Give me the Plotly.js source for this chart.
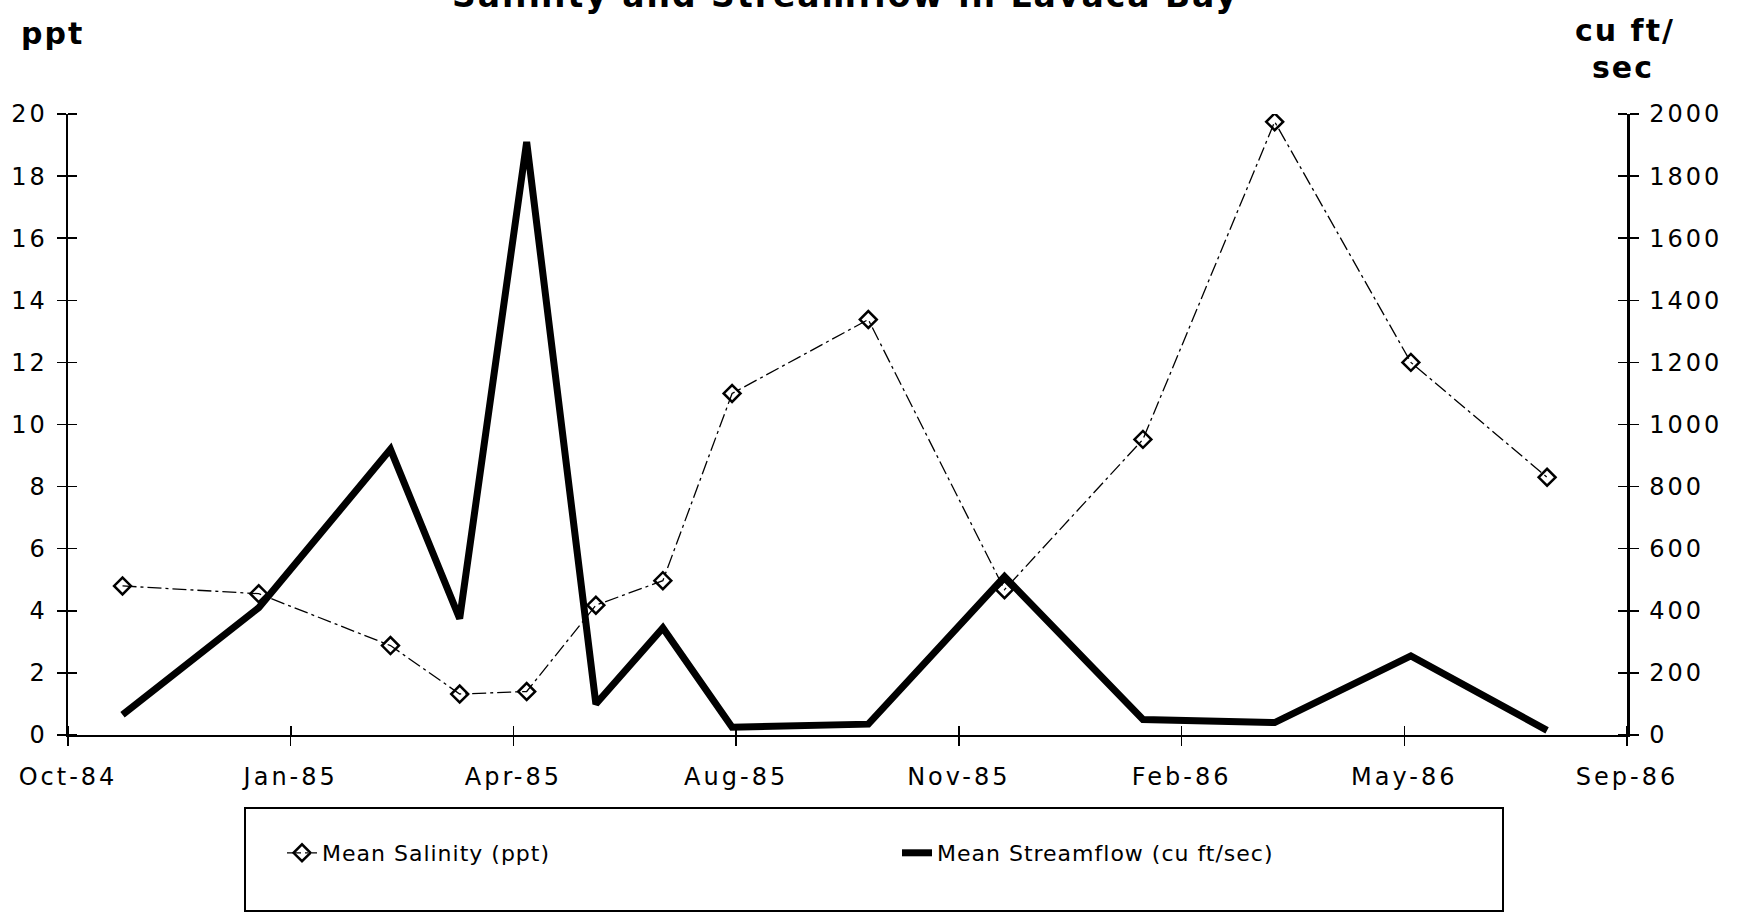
<!DOCTYPE html>
<html>
<head>
<meta charset="utf-8">
<script src="https://cdn.plot.ly/plotly-3.0.1.min.js"></script>
<style>
  html, body { margin: 0; padding: 0; background: #fff; }
  #chart { width: 1739px; height: 914px; }
  .xtick text, .ytick text, .y2tick text { letter-spacing: 3px; }
  .legendtext { letter-spacing: 1px; }
  .annotation-text { letter-spacing: 2px; }
</style>
</head>
<body>
<div id="chart"></div>
<script>
// ---- data ----
const sampleDates = ['1984-11-01','1985-01-01','1985-03-01','1985-04-01','1985-05-01','1985-06-01','1985-07-01',
                     '1985-08-01','1985-10-01','1985-12-01','1986-02-01','1986-04-01','1986-06-01','1986-08-01'];
const salinity   = [4.8, 4.55, 2.88, 1.32, 1.4, 4.18, 4.97, 11.0, 13.38, 4.68, 9.52, 19.75, 12.0, 8.3];
const streamflow = [65, 410, 920, 375, 1910, 100, 345, 25, 35, 510, 50, 40, 255, 15];

const seriesNames = ['Mean Salinity (ppt)', 'Mean Streamflow (cu ft/sec)'];
const titleText = 'Salinity and Streamflow in Lavaca Bay';
const leftUnit = 'ppt';
const rightUnit = ['cu ft/', 'sec'];

// axis layout
const xStart = new Date('1984-10-07T14:00:00Z').getTime();
const xEnd   = new Date('1986-09-05T19:00:00Z').getTime();
const xStep  = (xEnd - xStart) / 7;

const fontFam = 'DejaVu Sans, sans-serif';
const tickFont = {family: fontFam, size: 24, color: '#000'};

const traces = [
  {
    x: sampleDates, y: salinity, name: seriesNames[0], type: 'scatter', mode: 'lines+markers',
    yaxis: 'y',
    line: {color: '#000', width: 1.3, dash: '14px,4px,3px,4px'},
    marker: {symbol: 'diamond-open', size: 13, color: '#000', line: {width: 2.5, color: '#000'}}
  },
  {
    x: sampleDates, y: streamflow, name: seriesNames[1], type: 'scatter', mode: 'lines',
    yaxis: 'y2',
    line: {color: '#000', width: 7}
  }
];

const L = 68, R = 112, T = 114, B = 179;
const W = 1739, H = 914;
const pw = W - L - R, ph = H - T - B;
const px2x = p => (p - L) / pw;
const py2y = p => (H - B - p) / ph;

const layout = {
  width: W, height: H,
  margin: {l: L, r: R, t: T, b: B, pad: 0},
  paper_bgcolor: '#fff', plot_bgcolor: '#fff',
  showlegend: true,
  legend: {
    orientation: 'h', x: px2x(282), xanchor: 'left', y: py2y(853), yanchor: 'middle',
    font: {family: fontFam, size: 22, color: '#000'},
    bgcolor: 'rgba(0,0,0,0)', borderwidth: 0,
    entrywidthmode: 'pixels', entrywidth: 570
  },
  xaxis: {
    type: 'date', range: [xStart, xEnd], tick0: xStart, dtick: xStep, tickformat: '%b-%y',
    showgrid: false, zeroline: false, showline: true, linecolor: '#000', linewidth: 1.5,
    ticks: 'outside', ticklen: 9, tickwidth: 1.5, tickcolor: '#000',
    tickfont: tickFont, ticklabelstandoff: 11,
    minor: {ticks: 'inside', ticklen: 9, tickwidth: 1.5, tickcolor: '#000', tick0: xStart + 3600000, dtick: xStep, showgrid: false}
  },
  yaxis: {
    range: [0, 20], dtick: 2, tick0: 0,
    showgrid: false, zeroline: false, showline: true, linecolor: '#000', linewidth: 2.5,
    ticks: 'outside', ticklen: 9, tickwidth: 1.5, tickcolor: '#000',
    tickfont: tickFont, ticklabelstandoff: 4,
    minor: {ticks: 'inside', ticklen: 9, tickwidth: 1.5, tickcolor: '#000', tick0: 0.001, dtick: 2, showgrid: false}
  },
  yaxis2: {
    range: [0, 2000], dtick: 200, tick0: 0, overlaying: 'y', side: 'right',
    showgrid: false, zeroline: false, showline: true, linecolor: '#000', linewidth: 2.5,
    ticks: 'outside', ticklen: 9, tickwidth: 1.5, tickcolor: '#000',
    tickfont: tickFont, ticklabelstandoff: 6,
    minor: {ticks: 'inside', ticklen: 9, tickwidth: 1.5, tickcolor: '#000', tick0: 0.1, dtick: 200, showgrid: false}
  },
  annotations: [
    {text: '<b>' + titleText + '</b>', xref: 'paper', yref: 'paper', x: px2x(845), y: py2y(17),
     xanchor: 'center', yanchor: 'bottom', showarrow: false, font: {family: fontFam, size: 33, color: '#000'}},
    {text: '<b>' + leftUnit + '</b>', xref: 'paper', yref: 'paper', x: px2x(52), y: py2y(33),
     xanchor: 'center', yanchor: 'middle', showarrow: false, font: {family: fontFam, size: 30, color: '#000'}},
    {text: '<b>' + rightUnit[0] + '</b>', xref: 'paper', yref: 'paper', x: px2x(1625), y: py2y(30),
     xanchor: 'center', yanchor: 'middle', showarrow: false, font: {family: fontFam, size: 30, color: '#000'}},
    {text: '<b>' + rightUnit[1] + '</b>', xref: 'paper', yref: 'paper', x: px2x(1623), y: py2y(67),
     xanchor: 'center', yanchor: 'middle', showarrow: false, font: {family: fontFam, size: 30, color: '#000'}}
  ],
  shapes: [
    {type: 'rect', xref: 'paper', yref: 'paper', x0: px2x(245), x1: px2x(1503), y0: py2y(911), y1: py2y(808),
     line: {color: '#000', width: 2}, fillcolor: 'rgba(0,0,0,0)'}
  ]
};

Plotly.newPlot('chart', traces, layout, {displayModeBar: false, staticPlot: true});
</script>
</body>
</html>
